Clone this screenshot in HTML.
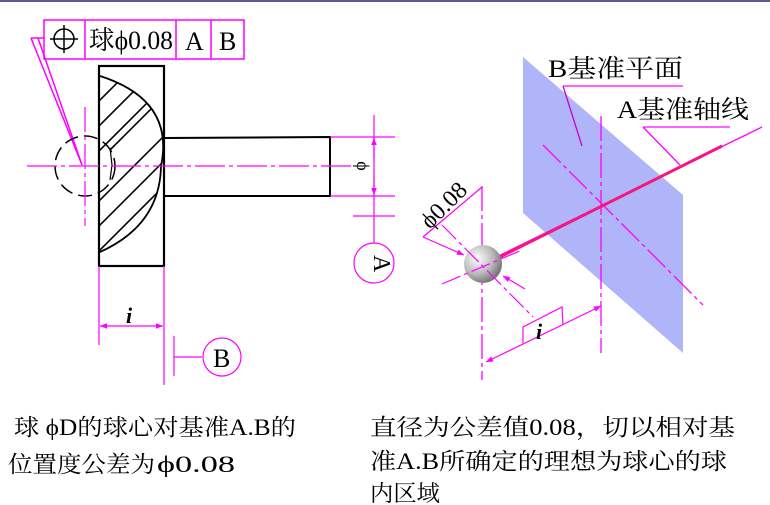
<!DOCTYPE html>
<html><head><meta charset="utf-8"><style>
body{margin:0;background:#fff;}
svg{display:block;}
text{font-family:"Liberation Serif","Noto Serif CJK SC",serif;}
</style></head><body>
<svg width="770" height="505" viewBox="0 0 770 505" xmlns="http://www.w3.org/2000/svg">
<defs>
<radialGradient id="sg" cx="0.35" cy="0.35" r="0.7">
<stop offset="0" stop-color="#ffffff"/><stop offset="0.6" stop-color="#b8b8b8"/><stop offset="1" stop-color="#707070"/>
</radialGradient>
<marker id="ar" viewBox="0 0 10 10" refX="10" refY="5" markerWidth="9" markerHeight="7" orient="auto-start-reverse" markerUnits="userSpaceOnUse">
<path d="M0,1 L10,5 L0,9 z" fill="#f0f"/></marker>
</defs>
<rect x="0" y="0" width="770" height="2" fill="#5c5c8c"/>
<g stroke="#f0f" stroke-width="1.5" fill="none">
<rect x="44" y="20" width="200" height="39"/>
<line x1="85" y1="20" x2="85" y2="59"/><line x1="176" y1="20" x2="176" y2="59"/><line x1="211" y1="20" x2="211" y2="59"/>
<line x1="31" y1="38" x2="44" y2="38"/>
<line x1="31" y1="38" x2="82" y2="165"/><line x1="38" y1="38" x2="82" y2="165"/>
</g>
<g stroke="#000" stroke-width="1.5" fill="none">
<circle cx="64" cy="39" r="10"/><line x1="50" y1="39" x2="78" y2="39"/><line x1="64" y1="25" x2="64" y2="53"/>
</g>
<text x="89" y="49" font-size="26" textLength="84" lengthAdjust="spacingAndGlyphs">球ϕ0.08</text>
<text x="185" y="50" font-size="26">A</text>
<text x="219" y="50" font-size="26">B</text>
<clipPath id="hc"><path d="M100,76 Q175,100 161,166 Q160,225 100,252 Z"/></clipPath>
<g clip-path="url(#hc)" stroke="#000" stroke-width="1.6">
<line x1="90" y1="110" x2="160" y2="40"/><line x1="90" y1="135" x2="180" y2="45"/><line x1="90" y1="160" x2="190" y2="60"/>
<line x1="110" y1="150" x2="190" y2="70"/><line x1="90" y1="210" x2="190" y2="110"/><line x1="90" y1="235" x2="190" y2="135"/>
<line x1="90" y1="260" x2="190" y2="160"/><line x1="90" y1="285" x2="190" y2="185"/>
</g>
<path d="M100,76 Q175,100 161,166 Q160,225 100,252" stroke="#000" stroke-width="1.8" fill="none"/>
<path d="M110,148 L112,165 L110,180" stroke="#000" stroke-width="1.2" fill="none"/>
<rect x="99" y="66" width="65" height="200" stroke="#000" stroke-width="2.2" fill="none"/>
<path d="M164,138 L330,137 L330,196 L164,196" stroke="#000" stroke-width="2" fill="none"/>
<circle cx="85" cy="166" r="30" stroke="#000" stroke-width="1.5" fill="none" stroke-dasharray="14,6"/>
<g stroke="#f0f" stroke-width="1.2" fill="none">
<line x1="27" y1="166" x2="367" y2="166" stroke-dasharray="30,4,4,4"/>
<line x1="85" y1="107" x2="85" y2="226" stroke-dasharray="25,4,4,4"/>
<line x1="330" y1="137" x2="395" y2="137"/><line x1="330" y1="196" x2="395" y2="196"/>
<line x1="374" y1="115" x2="374" y2="243"/>
<line x1="353" y1="216" x2="395" y2="216"/>
<line x1="374" y1="158" x2="374" y2="138" marker-end="url(#ar)"/>
<line x1="374" y1="175" x2="374" y2="195" marker-end="url(#ar)"/>
<circle cx="374" cy="263" r="20"/>
<line x1="99" y1="266" x2="99" y2="345"/><line x1="164" y1="266" x2="164" y2="385"/>
<line x1="100" y1="326" x2="163" y2="326" marker-start="url(#ar)" marker-end="url(#ar)"/>
<line x1="174" y1="336" x2="174" y2="376"/><line x1="174" y1="357" x2="202" y2="357"/>
<circle cx="222" cy="357" r="19"/>
</g>
<text x="357" y="166" font-size="18" transform="rotate(90 357 166)" text-anchor="middle">ϕ</text>
<text x="366" y="263" font-size="24" transform="rotate(90 374 263)">A</text>
<text x="126" y="323" font-size="22" font-style="italic" font-weight="bold">i</text>
<text x="213" y="367" font-size="26">B</text>
<polygon points="523,57 683,195 683,353 523,213" fill="#b0b4f8"/>
<text x="548" y="77" font-size="25" textLength="135" lengthAdjust="spacingAndGlyphs">B基准平面</text>
<text x="617" y="118" font-size="25" textLength="132" lengthAdjust="spacingAndGlyphs">A基准轴线</text>
<g stroke="#f0f" stroke-width="1.3" fill="none">
<line x1="563" y1="86" x2="683" y2="86"/><line x1="563" y1="86" x2="582" y2="146" stroke="#c0c"/>
<line x1="643" y1="127" x2="730" y2="127"/><line x1="643" y1="127" x2="680" y2="165"/>
<line x1="482" y1="264" x2="762" y2="127"/>
<line x1="543" y1="145" x2="703" y2="305" stroke-dasharray="25,4,4,4"/>
<line x1="601" y1="116" x2="601" y2="353" stroke-dasharray="25,4,4,4"/>
<line x1="482" y1="186" x2="482" y2="380" stroke-dasharray="25,4,4,4"/>
</g>
<line x1="500" y1="257" x2="722" y2="146" stroke="#f02040" stroke-width="3"/>
<line x1="500" y1="257" x2="722" y2="146" stroke="#f0f" stroke-width="1"/>
<circle cx="483" cy="264" r="19" fill="url(#sg)"/>
<g stroke="#f0f" stroke-width="1.2" fill="none">
<line x1="442" y1="284" x2="522" y2="250" stroke-dasharray="20,4,4,4"/>
<line x1="442" y1="225" x2="533" y2="317" stroke-dasharray="20,4,4,4"/>
<line x1="482" y1="187" x2="423" y2="237"/>
<line x1="423" y1="237" x2="464" y2="255" marker-end="url(#ar)"/>
<line x1="525" y1="289" x2="503" y2="276" marker-end="url(#ar)"/>
<line x1="486" y1="362" x2="601" y2="306" marker-start="url(#ar)" marker-end="url(#ar)"/>
<polyline points="523,343 523,327 562,307 563,325"/>
</g>
<text x="430" y="230" font-size="24" transform="rotate(-45 430 230)">ϕ0.08</text>
<text x="536" y="339" font-size="22" font-style="italic" font-weight="bold">i</text>
<g font-size="23">
<text x="14" y="435" textLength="282" lengthAdjust="spacingAndGlyphs">球 ϕD的球心对基准A.B的</text>
<text x="8" y="472" textLength="147" lengthAdjust="spacingAndGlyphs">位置度公差为</text>
<text x="157" y="472" textLength="78" lengthAdjust="spacingAndGlyphs">ϕ0.08</text>
<text x="370" y="435" textLength="365" lengthAdjust="spacingAndGlyphs">直径为公差值0.08，切以相对基</text>
<text x="370" y="469" textLength="357" lengthAdjust="spacingAndGlyphs">准A.B所确定的理想为球心的球</text>
<text x="370" y="501" textLength="70" lengthAdjust="spacingAndGlyphs">内区域</text>
</g>
</svg>
</body></html>
